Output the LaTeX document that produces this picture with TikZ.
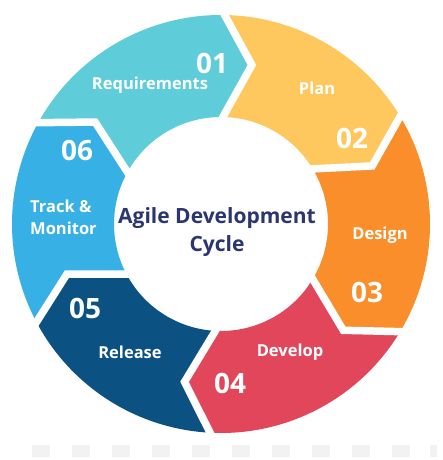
\documentclass[tikz,border=0pt]{standalone}
\usepackage{fontspec}
\setmainfont{Open Sans}
\usetikzlibrary{calc}
\definecolor{cteal}{HTML}{5FCDD9}
\definecolor{cyellow}{HTML}{FFC85E}
\definecolor{corange}{HTML}{F98E2A}
\definecolor{cred}{HTML}{E2465A}
\definecolor{cnavy}{HTML}{0B5283}
\definecolor{cblue}{HTML}{37B0E6}
\definecolor{ctitle}{HTML}{2B3670}
\begin{document}
\begin{tikzpicture}[x=1pt,y=1pt,
  sep/.style={white,line width=7.5pt,line join=miter},
  num/.style={text=white,font=\bfseries\fontsize{28}{30}\selectfont,inner sep=0pt},
  lbl/.style={text=white,font=\bfseries\fontsize{16.5}{20}\selectfont,inner sep=0pt},
  ttl/.style={text=ctitle,font=\bfseries\fontsize{21}{28}\selectfont,align=center,inner sep=0pt},
  blk/.style={fill=gray!10}]
\useasboundingbox (0,0) rectangle (442,460);
\fill[white] (0,0) rectangle (442,460);
\coordinate (C) at (221,236);
\def\R{209}\def\r{107}\def\m{162}
\foreach \b [count=\i] in {89,31,-31,-93,-152,151} {
  \coordinate (o\i) at ([shift={(\b:\R pt)}]C);
  \coordinate (t\i) at ([shift={(\b-10:\m pt)}]C);
  \coordinate (n\i) at ([shift={(\b:\r pt)}]C);
}
% segments
\fill[cteal] (o6) arc[start angle=151,end angle=89,radius=\R pt] -- (t1) -- (n1)
  arc[start angle=89,end angle=151,radius=\r pt] -- (t6) -- cycle;
\fill[cyellow] (o1) arc[start angle=89,end angle=31,radius=\R pt] -- (t2) -- (n2)
  arc[start angle=31,end angle=89,radius=\r pt] -- (t1) -- cycle;
\fill[corange] (o2) arc[start angle=31,end angle=-31,radius=\R pt] -- (t3) -- (n3)
  arc[start angle=-31,end angle=31,radius=\r pt] -- (t2) -- cycle;
\fill[cred] (o3) arc[start angle=-31,end angle=-93,radius=\R pt] -- (t4) -- (n4)
  arc[start angle=-93,end angle=-31,radius=\r pt] -- (t3) -- cycle;
\fill[cnavy] (o4) arc[start angle=-93,end angle=-152,radius=\R pt] -- (t5) -- (n5)
  arc[start angle=-152,end angle=-93,radius=\r pt] -- (t4) -- cycle;
\fill[cblue] (o5) arc[start angle=-152,end angle=-209,radius=\R pt] -- (t6) -- (n6)
  arc[start angle=-209,end angle=-152,radius=\r pt] -- (t5) -- cycle;
% gaps
\foreach \i in {1,...,6}
  \draw[sep] ($(t\i)!1.15!(o\i)$) -- (t\i) -- ($(t\i)!1.3!(n\i)$);
% texts
\node[num] (n01) at (212,397) {01};
\node[lbl] (lreq) at (150,375) {Requirements};
\node[lbl] (lplan) at (317,372) {Plan};
\node[num] (n02) at (352,322) {02};
\node[lbl] (ldes) at (380,225) {Design};
\node[num] (n03) at (367,168) {03};
\node[lbl] (ldev) at (290,108) {Develop};
\node[num] (n04) at (230,77) {04};
\node[lbl] (lrel) at (130,108) {Release};
\node[num] (n05) at (85,152) {05};
\node[num] (n06) at (77,310) {06};
\node[lbl,align=left,anchor=west,font=\bfseries\fontsize{16.5}{22}\selectfont] (ltrk) at (30,243) {Track \&\\Monitor};
\node[ttl] (title) at (217,228) {Agile Development\\Cycle};
% faint strip at the bottom
\foreach \k in {0,...,9}
  \fill[blk] (32+40*\k,3) rectangle (50+40*\k,15);
\fill[blk] (430,3) rectangle (437,15);
\end{tikzpicture}
\end{document}
